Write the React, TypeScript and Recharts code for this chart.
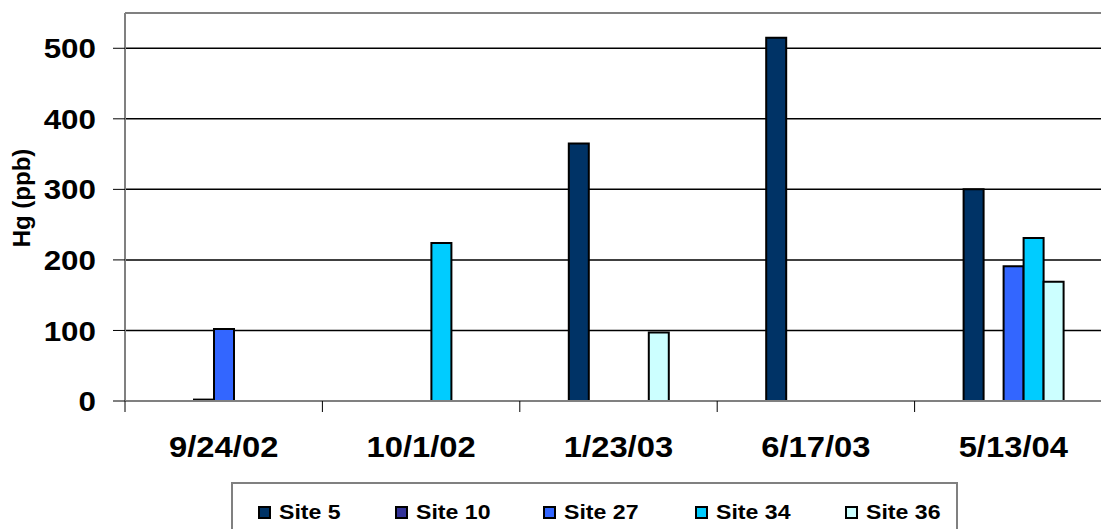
import React from 'react'
import {
  BarChart, Bar, XAxis, YAxis, CartesianGrid, Legend, ReferenceLine, Label,
} from 'recharts'

// ── Hg (ppb) by sampling date and site ─────────────────────────────────────

const categories = ['9/24/02', '10/1/02', '1/23/03', '6/17/03', '5/13/04']
const site5 = [null, null, 365, 515, 300]
const site10 = [2, null, null, null, null]
const site27 = [102, null, null, null, 191]
const site34 = [null, 224, null, null, 231]
const site36 = [null, null, 97, null, 169]
const yTicks = [0, 100, 200, 300, 400, 500]

const series = [
  { key: 'Site 5', values: site5, color: '#003366' },
  { key: 'Site 10', values: site10, color: '#333399' },
  { key: 'Site 27', values: site27, color: '#3366FF' },
  { key: 'Site 34', values: site34, color: '#00CCFF' },
  { key: 'Site 36', values: site36, color: '#CCFFFF' },
]

const data = categories.map((date, i) => {
  const row: Record<string, string | number | null> = { date }
  for (const s of series) row[s.key] = s.values[i]
  return row
})

const FONT = '"Liberation Sans", Arial, sans-serif'
const legendItemWidths = [137, 148, 152, 150, 120]

function XTick(props: any) {
  const { x, y, payload, width, visibleTicksCount } = props
  const band = width / visibleTicksCount
  return (
    <g>
      <line x1={x - band / 2} x2={x - band / 2} y1={y} y2={y + 11} stroke="#000" strokeWidth={1} />
      <text transform={`translate(${x},${y + 56}) scale(1.13,1)`} textAnchor="middle"
            fontFamily={FONT} fontWeight="bold" fontSize={29} fill="#000">
        {payload.value}
      </text>
    </g>
  )
}

function YTick(props: any) {
  const { x, y, payload } = props
  return (
    <text transform={`translate(${x - 15},${y}) scale(1.12,1)`} textAnchor="end" dy="0.36em"
          fontFamily={FONT} fontWeight="bold" fontSize={28} fill="#000">
      {payload.value}
    </text>
  )
}

function LegendBox() {
  return (
    <div style={{
      width: 727, height: 50, boxSizing: 'border-box', border: '2px solid #808080',
      background: '#fff', display: 'flex', alignItems: 'flex-start', paddingTop: 18, paddingLeft: 25,
      fontFamily: FONT, fontWeight: 'bold', fontSize: 21, color: '#000',
    }}>
      {series.map((s, i) => (
        <div key={s.key} style={{ display: 'flex', alignItems: 'center', width: legendItemWidths[i], flex: 'none' }}>
          <span style={{
            width: 9, height: 9, border: '2px solid #000', background: s.color, marginRight: 8,
          }} />
          <span style={{ display: 'inline-block', transform: 'scaleX(1.1)', transformOrigin: 'left center', lineHeight: '20px' }}>
            {s.key}
          </span>
        </div>
      ))}
    </div>
  )
}

export default function App() {
  return (
    <div style={{ position: 'absolute', left: 0, top: 0, width: 1101, height: 529, overflow: 'hidden', background: '#fff' }}>
      <BarChart width={1125} height={529} data={data}
                margin={{ top: 13, right: 13, left: 0, bottom: 0 }}
                barSize={20} barGap={0}>
        <CartesianGrid horizontal vertical={false} stroke="#000" strokeWidth={1.5} />
        <ReferenceLine y={550} stroke="#808080" strokeWidth={2} />
        <XAxis dataKey="date" tick={<XTick />} tickLine={false} tickSize={0} tickMargin={0}
               axisLine={{ stroke: '#808080', strokeWidth: 2 }} height={78} interval={0} />
        <YAxis domain={[0, 550]} ticks={yTicks} width={125} tick={<YTick />}
               tickSize={12} tickLine={{ stroke: '#000' }}
               axisLine={{ stroke: '#808080', strokeWidth: 2 }}>
          <Label content={({ viewBox }: any) => (
            <text transform={`translate(${viewBox.x + 30},${viewBox.y + viewBox.height / 2 - 9}) rotate(-90)`}
                  textAnchor="middle" fontFamily={FONT} fontWeight="bold" fontSize={24} fill="#000">
              Hg (ppb)
            </text>
          )} />
        </YAxis>
        <Legend verticalAlign="bottom" content={<LegendBox />}
                wrapperStyle={{ left: 231, top: 482, width: 727, height: 50 }} />
        {series.map(s => (
          <Bar key={s.key} dataKey={s.key} fill={s.color} stroke="#000" strokeWidth={2}
               isAnimationActive={false} />
        ))}
      </BarChart>
    </div>
  )
}
